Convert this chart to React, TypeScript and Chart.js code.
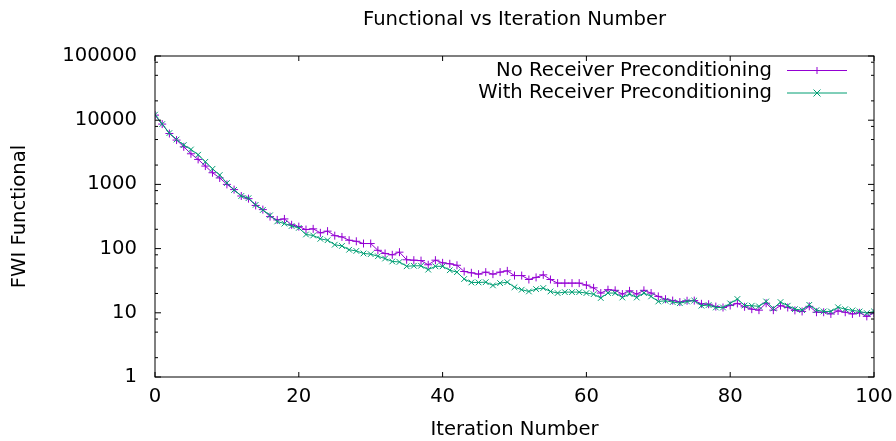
import React, { useEffect, useRef } from "react";
import { Chart, registerables } from "chart.js";
Chart.register(...registerables);

const titleText = "Functional vs Iteration Number";
const xAxisTitle = "Iteration Number";
const yAxisTitle = "FWI Functional";
const seriesNames = ["No Receiver Preconditioning", "With Receiver Preconditioning"];
const xTickValues = [0, 20, 40, 60, 80, 100];
const yTickValues = [1, 10, 100, 1000, 10000, 100000];

const noPrecond = [
  12000, 8700, 6200, 4900, 3850, 3000, 2450, 1930, 1520, 1260,
  1000, 830, 660, 600, 470, 405, 315, 280, 290, 235,
  220, 198, 203, 176, 187, 159, 152, 135, 130, 120,
  120, 94, 84, 80, 88, 67, 66, 65, 56, 66,
  60, 58, 55, 44, 42, 40, 43, 40, 43, 45,
  38, 38, 33, 35.6, 39, 33, 29, 29, 29, 29,
  27, 24.5, 20.3, 22.9, 22.4, 19.6, 22, 19.6, 22.4, 20.3,
  18, 16.3, 15.5, 14.7, 15.4, 15.5, 13.8, 13.6, 12.5, 12.1,
  13, 14, 12.4, 11.4, 11, 14.1, 11, 12.9, 12.1, 10.9,
  10.5, 12.6, 10.2, 10.2, 9.6, 10.7, 10.2, 9.6, 10, 8.8,
  9.9,
];

const withPrecond = [
  12200, 8700, 6300, 5000, 4100, 3500, 2900, 2250, 1750, 1400,
  1050, 820, 660, 610, 480, 400, 330, 265, 245, 225,
  210, 166, 160, 142, 135, 115, 110, 96, 92, 84,
  82, 76, 70, 63, 62, 53, 54, 54, 47, 53,
  53, 46, 43, 33.6, 29.7, 29.7, 30, 26.7, 29, 30,
  25, 22.9, 21.5, 23.4, 24.3, 21.5, 20.3, 21, 21, 21,
  20.3, 19.5, 17, 20.3, 20.3, 17.3, 19.6, 17.3, 20.3, 18,
  15, 15.4, 14.7, 14.1, 15, 15.5, 12.9, 13.2, 12.1, 12.1,
  14, 16.4, 13, 12.9, 12.6, 15, 11.7, 14.7, 12.9, 11.4,
  11, 13.3, 11, 10.5, 10.5, 12.2, 11.4, 10.9, 10.5, 9.9,
  10.5,
];

const PURPLE = "#9400d3";
const GREEN = "#009e73";
const FONT = "DejaVu Sans";
const FSIZE = 19.6;

const framePlugin = {
  id: "gnuplotFrame",
  afterDraw(chart: any) {
    const { ctx, chartArea } = chart;
    const { left, right, top, bottom } = chartArea;
    const xs = chart.scales.x;
    const ys = chart.scales.y;
    ctx.save();
    ctx.strokeStyle = "#000";
    ctx.lineWidth = 1;
    ctx.strokeRect(left, top, right - left, bottom - top);
    ctx.beginPath();
    for (let d = 0; d < yTickValues.length; d++) {
      const v = yTickValues[d];
      const py = ys.getPixelForValue(v);
      ctx.moveTo(left, py); ctx.lineTo(left + 6, py);
      ctx.moveTo(right, py); ctx.lineTo(right - 6, py);
      if (d < yTickValues.length - 1) {
        for (const m of [2, 5, 8]) {
          const pm = ys.getPixelForValue(v * m);
          ctx.moveTo(left, pm); ctx.lineTo(left + 3, pm);
          ctx.moveTo(right, pm); ctx.lineTo(right - 3, pm);
        }
      }
    }
    for (const v of xTickValues) {
      const px = xs.getPixelForValue(v);
      ctx.moveTo(px, bottom); ctx.lineTo(px, bottom - 5);
      ctx.moveTo(px, top); ctx.lineTo(px, top + 5);
    }
    ctx.stroke();

    ctx.fillStyle = "#000";
    ctx.font = `${FSIZE}px "${FONT}"`;
    ctx.textAlign = "center";
    ctx.textBaseline = "middle";
    ctx.fillText(titleText, (left + right) / 2, 20);
    ctx.fillText(xAxisTitle, (left + right) / 2, 430);
    ctx.save();
    ctx.translate(20, (top + bottom) / 2);
    ctx.rotate(-Math.PI / 2);
    ctx.fillText(yAxisTitle, 0, 0);
    ctx.restore();

    const rows = [
      { name: seriesNames[0], color: PURPLE, style: "plus", y: 70.5 },
      { name: seriesNames[1], color: GREEN, style: "x", y: 93 },
    ];
    for (const r of rows) {
      ctx.fillStyle = "#000";
      ctx.textAlign = "right";
      ctx.fillText(r.name, 772, r.y);
      ctx.strokeStyle = r.color;
      ctx.lineWidth = 1;
      ctx.beginPath();
      ctx.moveTo(787, r.y); ctx.lineTo(847, r.y);
      const cx = 817, s = 3.5;
      if (r.style === "plus") {
        ctx.moveTo(cx - s, r.y); ctx.lineTo(cx + s, r.y);
        ctx.moveTo(cx, r.y - s); ctx.lineTo(cx, r.y + s);
      } else {
        ctx.moveTo(cx - s, r.y - s); ctx.lineTo(cx + s, r.y + s);
        ctx.moveTo(cx - s, r.y + s); ctx.lineTo(cx + s, r.y - s);
      }
      ctx.stroke();
    }
    ctx.restore();
  },
};

export default function App() {
  const canvasRef = useRef<HTMLCanvasElement>(null);
  useEffect(() => {
    const canvas = canvasRef.current;
    if (!canvas) return;
    const chart = new Chart(canvas, {
      type: "line",
      data: {
        datasets: [
          {
            label: seriesNames[0],
            data: noPrecond.map((y, i) => ({ x: i, y })),
            borderColor: PURPLE,
            backgroundColor: PURPLE,
            borderWidth: 1,
            pointStyle: "cross",
            pointRadius: 4,
            pointBorderWidth: 1,
            tension: 0,
            order: 1,
          },
          {
            label: seriesNames[1],
            data: withPrecond.map((y, i) => ({ x: i, y })),
            borderColor: GREEN,
            backgroundColor: GREEN,
            borderWidth: 1,
            pointStyle: "crossRot",
            pointRadius: 4,
            pointBorderWidth: 1,
            tension: 0,
            order: 0,
          },
        ],
      },
      options: {
        animation: false,
        responsive: true,
        maintainAspectRatio: false,
        layout: { padding: { top: 56, right: 22, left: 0, bottom: 0 } },
        plugins: { legend: { display: false }, tooltip: { enabled: false }, title: { display: false } },
        scales: {
          x: {
            type: "linear",
            min: 0,
            max: 100,
            grid: { display: false, drawTicks: false },
            border: { display: false },
            afterBuildTicks: (s: any) => { s.ticks = xTickValues.map((v) => ({ value: v })); },
            afterFit: (s: any) => { s.height = 64; s.paddingLeft = 0; s.paddingRight = 0; },
            ticks: { color: "#000", font: { family: FONT, size: FSIZE }, padding: 8, maxRotation: 0 },
          },
          y: {
            type: "logarithmic",
            min: 1,
            max: 100000,
            grid: { display: false, drawTicks: false },
            border: { display: false },
            afterBuildTicks: (s: any) => { s.ticks = yTickValues.map((v) => ({ value: v })); },
            afterFit: (s: any) => { s.width = 155; s.paddingTop = 0; s.paddingBottom = 0; },
            ticks: {
              color: "#000",
              font: { family: FONT, size: FSIZE },
              padding: 18,
              callback: (v: any) => String(v),
            },
          },
        },
      },
      plugins: [framePlugin],
    });
    return () => chart.destroy();
  }, []);
  return (
    <div style={{ position: "absolute", left: 0, top: 0, width: 896, height: 441 }}>
      <canvas ref={canvasRef} />
    </div>
  );
}
